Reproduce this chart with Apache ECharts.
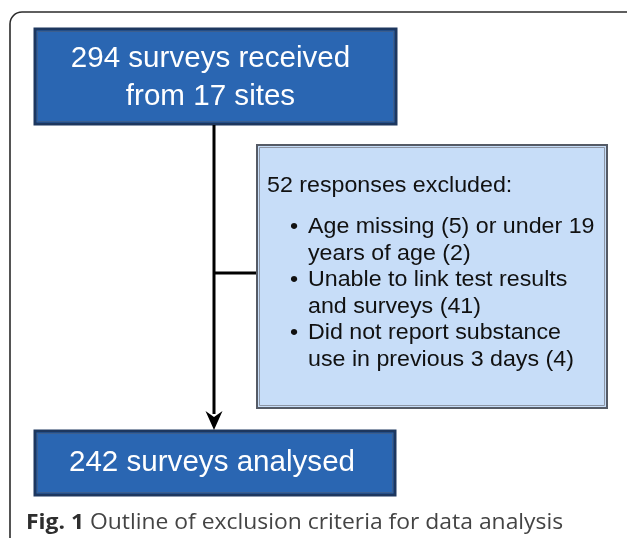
<!DOCTYPE html>
<html>
<head>
<meta charset="utf-8">
<script src="https://cdn.jsdelivr.net/npm/echarts@6/dist/echarts.min.js"></script>
<style>
html,body{margin:0;padding:0;background:#fff;}
#chart{width:627px;height:538px;}
</style>
</head>
<body>
<div id="chart"></div>
<script>
// ---- data ----
const stageNames = ['received', 'excluded', 'analysed'];
const stageCounts = [294, 52, 242];
const siteCounts = [17];
const reasonTexts = [
  'Age missing ({0}) or under 19\nyears of age ({1})',
  'Unable to link test results\nand surveys ({0})',
  'Did not report substance\nuse in previous 3 days ({0})'
];
const reasonCounts = [[5, 2], [41], [4]];
const captionBold = 'Fig. 1';
const captionText = 'Outline of exclusion criteria for data analysis';

// ---- build texts ----
function fill(t, vals) { return t.replace(/\{(\d)\}/g, (m, i) => vals[+i]); }
const boxTexts = [
  stageCounts[0] + ' surveys received\nfrom ' + siteCounts[0] + ' sites',
  stageCounts[1] + ' responses excluded:',
  stageCounts[2] + ' surveys ' + stageNames[2]
];
const reasonLines = reasonTexts.map((t, i) => fill(t, reasonCounts[i]));

// ---- layout (pixel units on hidden axes) ----
const L = {
  top: {x: 35, y: 29, w: 361, h: 95},
  side: {x: 257, y: 145, w: 350, h: 263},
  bottom: {x: 35, y: 431, w: 360, h: 64},
  trunkX: 214
};
const SANS = 'Liberation Sans';

const chart = echarts.init(document.getElementById('chart'), null, {renderer: 'canvas'});

function txt(x, y, text, size, color, align, sx, extra) {
  return {type: 'text', x: x, y: y, scaleX: sx || 1, style: Object.assign({
    text: text, fill: color, fontFamily: SANS, fontSize: size,
    align: align, verticalAlign: 'middle'
  }, extra || {})};
}

function renderItem(params, api) {
  const P = (x, y) => api.coord([x, y]);
  const children = [];
  // outer frame
  const f0 = P(10, 12), f1 = P(640, 560);
  children.push({type: 'rect', shape: {x: f0[0], y: f0[1], width: f1[0]-f0[0], height: f1[1]-f0[1], r: 12},
    style: {fill: 'none', stroke: '#2b2b2b', lineWidth: 1.6}});

  function darkBox(b) {
    const a = P(b.x, b.y), c = P(b.x + b.w, b.y + b.h);
    children.push({type: 'rect', shape: {x: a[0], y: a[1], width: c[0]-a[0], height: c[1]-a[1]},
      style: {fill: '#2a66b2', stroke: '#1d375f', lineWidth: 3}});
    children.push({type: 'rect', shape: {x: a[0]+2.5, y: a[1]+2.5, width: c[0]-a[0]-5, height: c[1]-a[1]-5},
      style: {fill: 'none', stroke: '#3c5f8f', lineWidth: 1}});
  }
  darkBox(L.top);
  darkBox(L.bottom);

  // connectors
  const t0 = P(L.trunkX, L.top.y + L.top.h + 1), t1 = P(L.trunkX, 414);
  children.push({type: 'line', shape: {x1: t0[0], y1: t0[1], x2: t1[0], y2: t1[1]}, style: {stroke: '#000', lineWidth: 3}});
  const hY = 273;
  const h0 = P(L.trunkX, hY), h1 = P(L.side.x, hY);
  children.push({type: 'line', shape: {x1: h0[0], y1: h0[1], x2: h1[0], y2: h1[1]}, style: {stroke: '#000', lineWidth: 3}});
  // arrow head
  const tip = P(L.trunkX, 430);
  children.push({type: 'polygon', shape: {points: [
    [tip[0], tip[1]], [tip[0]-8.5, tip[1]-19], [tip[0], tip[1]-13], [tip[0]+8.5, tip[1]-19]
  ]}, style: {fill: '#000'}});

  // side box
  const s0 = P(L.side.x, L.side.y), s1 = P(L.side.x + L.side.w, L.side.y + L.side.h);
  children.push({type: 'rect', shape: {x: s0[0], y: s0[1], width: s1[0]-s0[0], height: s1[1]-s0[1]},
    style: {fill: '#c7ddf8', stroke: '#555b66', lineWidth: 2}});
  children.push({type: 'rect', shape: {x: s0[0]+2.5, y: s0[1]+2.5, width: s1[0]-s0[0]-5, height: s1[1]-s0[1]-5},
    style: {fill: 'none', stroke: '#8d96a5', lineWidth: 1}});

  // texts
  const c1 = P(L.top.x + L.top.w/2 - 5, L.top.y + L.top.h/2 + 1);
  children.push(txt(c1[0], c1[1], boxTexts[0], 29, '#fff', 'center', 1.02, {lineHeight: 38}));
  const c3 = P(L.bottom.x + L.bottom.w/2 - 3, L.bottom.y + L.bottom.h/2);
  children.push(txt(c3[0], c3[1], boxTexts[2], 29, '#fff', 'center', 1.02));
  const hd = P(267, 186);
  const FS = 21.5, SX = 1.08;
  children.push(txt(hd[0], hd[1], boxTexts[1], FS, '#111', 'left', SX));
  let y = 227;
  reasonLines.forEach(t => {
    const lines = t.split('\n');
    const b = P(290, y);
    children.push(txt(b[0], b[1], '•', FS, '#111', 'left', SX));
    lines.forEach(ln => {
      const q = P(308, y);
      children.push(txt(q[0], q[1], ln, FS, '#111', 'left', SX));
      y += 26.6;
    });
  });

  // caption
  const cp = P(26, 523);
  children.push({type: 'text', x: cp[0], y: cp[1], scaleX: 1.04, style: {
    text: '{b|' + captionBold + '} {r|' + captionText + '}',
    verticalAlign: 'middle', align: 'left',
    fontFamily: 'Open Sans', fontSize: 22,
    rich: {
      b: {fontFamily: 'Open Sans', fontSize: 22, fontWeight: 'bold', fill: '#2e2e2e'},
      r: {fontFamily: 'Open Sans', fontSize: 22, fill: '#444'}
    }
  }});
  return {type: 'group', children};
}

chart.setOption({
  animation: false,
  grid: {left: 0, top: 0, right: 0, bottom: 0},
  xAxis: {type: 'value', min: 0, max: 627, show: false},
  yAxis: {type: 'value', min: 0, max: 538, inverse: true, show: false},
  series: [{
    type: 'custom',
    renderItem: renderItem,
    data: [[0, 0]],
    clip: false
  }]
});
</script>
</body>
</html>
